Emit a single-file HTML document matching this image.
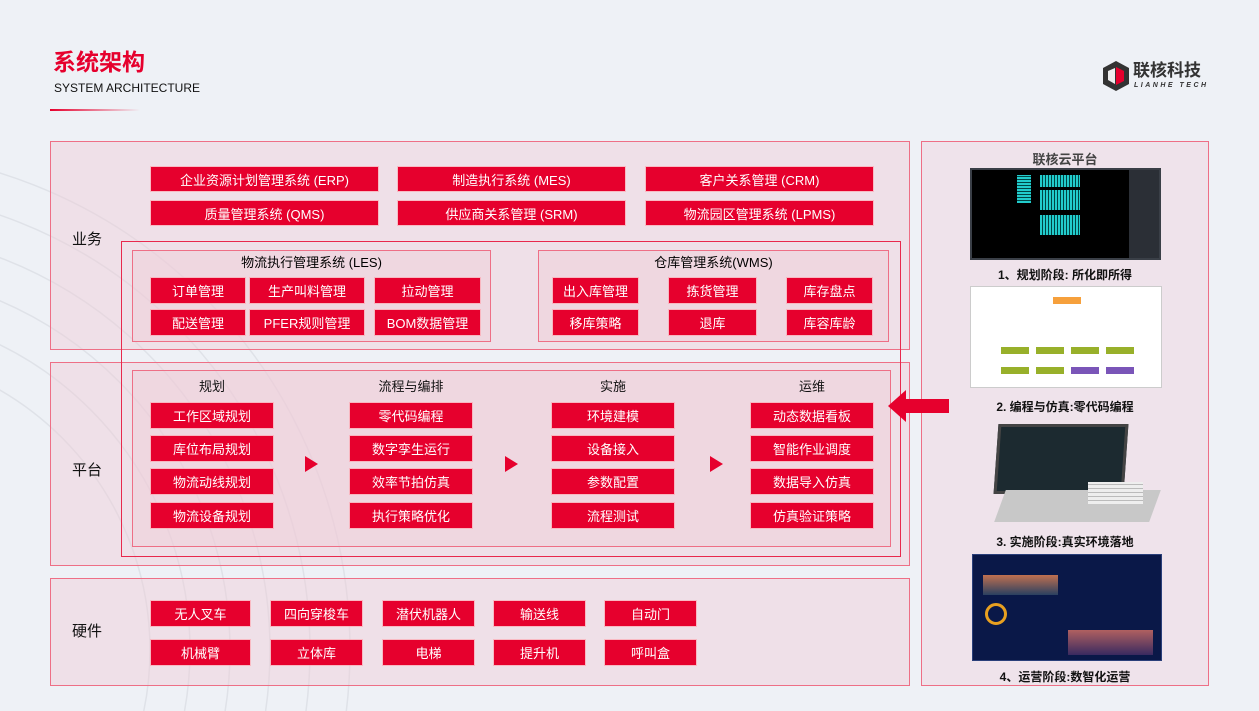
<!DOCTYPE html>
<html><head><meta charset="utf-8"><style>
*{margin:0;padding:0;box-sizing:border-box}
html,body{width:1259px;height:711px;overflow:hidden}
body{background:#eef1f6;font-family:"Liberation Sans","Noto Sans CJK SC",sans-serif;position:relative}
.a{position:absolute}
svg{display:block}
.box{position:absolute;border:1px solid #ee6f86;background:rgba(240,205,215,0.45)}
.b{position:absolute;background:#e6002d;color:#fff;font-size:13px;display:flex;align-items:center;justify-content:center;white-space:nowrap;box-shadow:0 0 0 1px rgba(255,160,170,.6)}
.lbl{position:absolute;font-size:15px;color:#111}
.h{position:absolute;font-size:13px;color:#111;text-align:center;width:122px}
.tri{position:absolute;width:0;height:0;border-top:8px solid transparent;border-bottom:8px solid transparent;border-left:13px solid #e6002d}
.cap{position:absolute;left:921px;width:288px;text-align:center;font-size:12px;font-weight:bold;color:#111}
</style></head><body>
<svg class="a" style="left:0;top:0" width="1259" height="711">
<g fill="none" stroke="#dfe2e8" stroke-width="1.5">
<circle cx="-150" cy="650" r="300"/><circle cx="-150" cy="650" r="340"/><circle cx="-150" cy="650" r="380"/><circle cx="-150" cy="650" r="420"/><circle cx="-150" cy="650" r="460"/><circle cx="-150" cy="650" r="500"/>
</g></svg>
<div class="a" style="left:53px;top:43px;font-size:23px;font-weight:bold;color:#e6002d">系统架构</div>
<div class="a" style="left:54px;top:81px;font-size:12px;color:#111">SYSTEM ARCHITECTURE</div>
<div class="a" style="left:50px;top:109px;width:90px;height:2px;background:linear-gradient(90deg,#e6002d,rgba(230,0,45,0))"></div>
<svg class="a" style="left:1101px;top:60px" width="30" height="32"><polygon points="15,1 28,8 28,24 15,31 2,24 2,8" fill="#333"/><polygon points="15,7 23,11 23,21 15,25" fill="#e6002d"/><polygon points="7,11 14,8 14,24 7,20" fill="#eee"/></svg>
<div class="a" style="left:1133px;top:61px;font-size:17px;font-weight:bold;color:#333;white-space:nowrap;line-height:20px">联核科技</div>
<div class="a" style="left:1134px;top:82px;font-size:7px;line-height:8px;font-weight:bold;color:#333;letter-spacing:2.5px;font-style:italic;white-space:nowrap">LIANHE TECH</div>

<div class="box" style="left:50px;top:141px;width:860px;height:209px"></div>
<div class="box" style="left:50px;top:362px;width:860px;height:204px"></div>
<div class="box" style="left:50px;top:578px;width:860px;height:108px"></div>
<div class="box" style="left:921px;top:141px;width:288px;height:545px;background:rgba(240,215,225,.55)"></div>
<div class="a" style="left:121px;top:241px;width:780px;height:316px;border:1.5px solid #e8294d"></div>
<div class="box" style="left:132px;top:250px;width:359px;height:92px"></div>
<div class="box" style="left:538px;top:250px;width:351px;height:92px"></div>
<div class="box" style="left:132px;top:370px;width:759px;height:177px"></div>

<div class="lbl" style="left:72px;top:228px">业务</div>
<div class="lbl" style="left:72px;top:459px">平台</div>
<div class="lbl" style="left:72px;top:620px">硬件</div>

<div class="b" style="left:151px;top:167px;width:227px;height:24px">企业资源计划管理系统 (ERP)</div>
<div class="b" style="left:398px;top:167px;width:227px;height:24px">制造执行系统 (MES)</div>
<div class="b" style="left:646px;top:167px;width:227px;height:24px">客户关系管理 (CRM)</div>
<div class="b" style="left:151px;top:201px;width:227px;height:24px">质量管理系统 (QMS)</div>
<div class="b" style="left:398px;top:201px;width:227px;height:24px">供应商关系管理 (SRM)</div>
<div class="b" style="left:646px;top:201px;width:227px;height:24px">物流园区管理系统 (LPMS)</div>

<div class="a" style="left:132px;top:252px;width:359px;text-align:center;font-size:13px">物流执行管理系统 (LES)</div>
<div class="a" style="left:538px;top:252px;width:351px;text-align:center;font-size:13px">仓库管理系统(WMS)</div>
<div class="b" style="left:151px;top:278px;width:94px;height:25px">订单管理</div>
<div class="b" style="left:250px;top:278px;width:114px;height:25px">生产叫料管理</div>
<div class="b" style="left:375px;top:278px;width:105px;height:25px">拉动管理</div>
<div class="b" style="left:151px;top:310px;width:94px;height:25px">配送管理</div>
<div class="b" style="left:250px;top:310px;width:114px;height:25px">PFER规则管理</div>
<div class="b" style="left:375px;top:310px;width:105px;height:25px">BOM数据管理</div>
<div class="b" style="left:553px;top:278px;width:85px;height:25px">出入库管理</div>
<div class="b" style="left:669px;top:278px;width:87px;height:25px">拣货管理</div>
<div class="b" style="left:787px;top:278px;width:85px;height:25px">库存盘点</div>
<div class="b" style="left:553px;top:310px;width:85px;height:25px">移库策略</div>
<div class="b" style="left:669px;top:310px;width:87px;height:25px">退库</div>
<div class="b" style="left:787px;top:310px;width:85px;height:25px">库容库龄</div>

<div class="h" style="left:151px;top:376px">规划</div>
<div class="h" style="left:350px;top:376px">流程与编排</div>
<div class="h" style="left:552px;top:376px">实施</div>
<div class="h" style="left:751px;top:376px">运维</div>
<div class="b" style="left:151px;top:403px;width:122px;height:25px">工作区域规划</div>
<div class="b" style="left:151px;top:436px;width:122px;height:25px">库位布局规划</div>
<div class="b" style="left:151px;top:469px;width:122px;height:25px">物流动线规划</div>
<div class="b" style="left:151px;top:503px;width:122px;height:25px">物流设备规划</div>
<div class="b" style="left:350px;top:403px;width:122px;height:25px">零代码编程</div>
<div class="b" style="left:350px;top:436px;width:122px;height:25px">数字孪生运行</div>
<div class="b" style="left:350px;top:469px;width:122px;height:25px">效率节拍仿真</div>
<div class="b" style="left:350px;top:503px;width:122px;height:25px">执行策略优化</div>
<div class="b" style="left:552px;top:403px;width:122px;height:25px">环境建模</div>
<div class="b" style="left:552px;top:436px;width:122px;height:25px">设备接入</div>
<div class="b" style="left:552px;top:469px;width:122px;height:25px">参数配置</div>
<div class="b" style="left:552px;top:503px;width:122px;height:25px">流程测试</div>
<div class="b" style="left:751px;top:403px;width:122px;height:25px">动态数据看板</div>
<div class="b" style="left:751px;top:436px;width:122px;height:25px">智能作业调度</div>
<div class="b" style="left:751px;top:469px;width:122px;height:25px">数据导入仿真</div>
<div class="b" style="left:751px;top:503px;width:122px;height:25px">仿真验证策略</div>
<div class="tri" style="left:305px;top:456px"></div>
<div class="tri" style="left:505px;top:456px"></div>
<div class="tri" style="left:710px;top:456px"></div>
<svg class="a" style="left:888px;top:390px" width="62" height="32"><polygon points="0,16 18,0 18,9 61,9 61,23 18,23 18,32" fill="#e6002d"/></svg>

<div class="b" style="left:151px;top:601px;width:99px;height:25px">无人叉车</div>
<div class="b" style="left:271px;top:601px;width:91px;height:25px">四向穿梭车</div>
<div class="b" style="left:383px;top:601px;width:91px;height:25px">潜伏机器人</div>
<div class="b" style="left:494px;top:601px;width:91px;height:25px">输送线</div>
<div class="b" style="left:605px;top:601px;width:91px;height:25px">自动门</div>
<div class="b" style="left:151px;top:640px;width:99px;height:25px">机械臂</div>
<div class="b" style="left:271px;top:640px;width:91px;height:25px">立体库</div>
<div class="b" style="left:383px;top:640px;width:91px;height:25px">电梯</div>
<div class="b" style="left:494px;top:640px;width:91px;height:25px">提升机</div>
<div class="b" style="left:605px;top:640px;width:91px;height:25px">呼叫盒</div>

<div class="cap" style="top:149px;font-size:13px;color:#444">联核云平台</div>
<div class="a" style="left:970px;top:168px;width:191px;height:92px;background:#000;border:2px solid #3a3f47;overflow:hidden">
<div class="a" style="left:45px;top:5px;width:14px;height:28px;background:repeating-linear-gradient(0deg,#2cc 0 2px,#044 2px 3px)"></div>
<div class="a" style="left:68px;top:5px;width:40px;height:12px;background:repeating-linear-gradient(90deg,#2cc 0 2px,#044 2px 3px)"></div>
<div class="a" style="left:68px;top:20px;width:40px;height:20px;background:repeating-linear-gradient(90deg,#2cc 0 2px,#044 2px 3px)"></div>
<div class="a" style="left:68px;top:45px;width:40px;height:20px;background:repeating-linear-gradient(90deg,#2cc 0 2px,#044 2px 3px)"></div>
<div class="a" style="right:0;top:0;width:30px;height:88px;background:#2b2f36"></div></div>
<div class="cap" style="top:266px">1、规划阶段: 所化即所得</div>
<div class="a" style="left:970px;top:286px;width:192px;height:102px;background:#fff;border:1px solid #ccc;overflow:hidden">
<div class="a" style="left:82px;top:10px;width:28px;height:7px;background:#f6a03c"></div>
<div class="a" style="left:30px;top:60px;width:28px;height:7px;background:#98b02a"></div><div class="a" style="left:65px;top:60px;width:28px;height:7px;background:#98b02a"></div><div class="a" style="left:100px;top:60px;width:28px;height:7px;background:#98b02a"></div><div class="a" style="left:135px;top:60px;width:28px;height:7px;background:#98b02a"></div>
<div class="a" style="left:30px;top:80px;width:28px;height:7px;background:#98b02a"></div><div class="a" style="left:65px;top:80px;width:28px;height:7px;background:#98b02a"></div><div class="a" style="left:100px;top:80px;width:28px;height:7px;background:#7a55b8"></div><div class="a" style="left:135px;top:80px;width:28px;height:7px;background:#7a55b8"></div></div>
<div class="cap" style="top:398px">2. 编程与仿真:零代码编程</div>
<div class="a" style="left:996px;top:424px;width:130px;height:70px;background:#1c2a30;border:3px solid #444;transform:skewX(-4deg)"></div>
<div class="a" style="left:1000px;top:490px;width:155px;height:32px;background:#c8c8c8;transform:skewX(-20deg)"></div>
<div class="a" style="left:1088px;top:482px;width:55px;height:22px;background:repeating-linear-gradient(0deg,#eee 0 3px,#bbb 3px 4px)"></div>
<div class="cap" style="top:533px">3. 实施阶段:真实环境落地</div>
<div class="a" style="left:972px;top:554px;width:190px;height:107px;background:#0a1848;border:1px solid #2a3f7a;overflow:hidden">
<div class="a" style="left:10px;top:20px;width:75px;height:20px;background:linear-gradient(#c07050,#2a4060)"></div>
<div class="a" style="left:12px;top:48px;width:22px;height:22px;border-radius:50%;border:3px solid #e8a020"></div>
<div class="a" style="left:95px;top:75px;width:85px;height:25px;background:linear-gradient(#b06060,#3a2a60)"></div></div>
<div class="cap" style="top:670px;line-height:15px">4、运营阶段:数智化运营</div>
</body></html>
